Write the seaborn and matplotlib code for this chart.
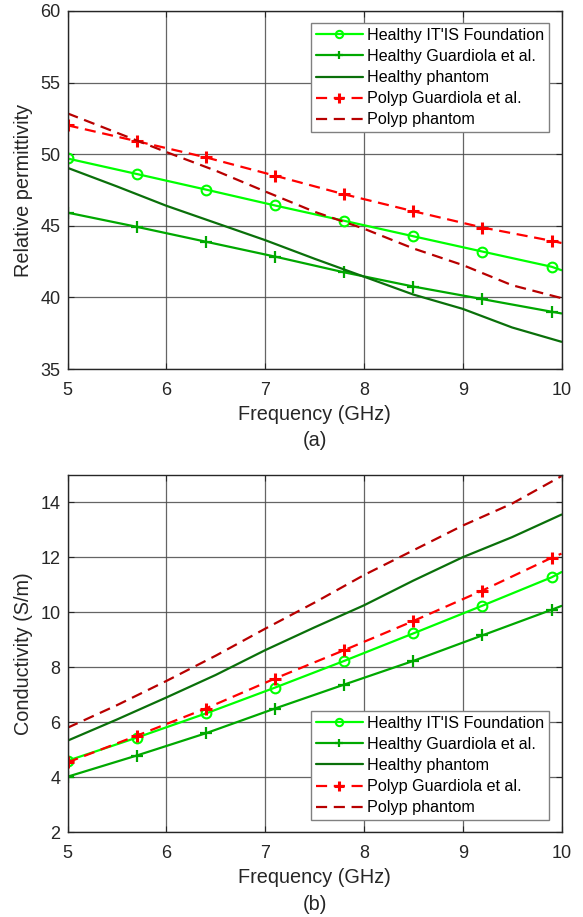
import numpy as np
import pandas as pd
import matplotlib
matplotlib.use("Agg")
import matplotlib.pyplot as plt
import seaborn as sns

# ---------------- data ----------------
# marker series (sampled points, last point = 10 GHz end of line)
freq_mk = [5.0, 5.7, 6.4, 7.1, 7.8, 8.5, 9.2, 9.9, 10.0]
# phantom curves
freq_ph = [5.0, 5.5, 6.0, 6.5, 7.0, 7.5, 8.0, 8.5, 9.0, 9.5, 10.0]

# (a) relative permittivity
eps_healthy_itis = [49.70, 48.62, 47.53, 46.42, 45.35, 44.27, 43.20, 42.14, 41.90]
eps_healthy_guard = [45.92, 44.93, 43.89, 42.85, 41.75, 40.76, 39.88, 39.00, 38.88]
eps_healthy_phant = [49.05, 47.75, 46.40, 45.20, 44.00, 42.70, 41.45, 40.20, 39.20, 37.90, 36.90]
eps_polyp_guard = [52.02, 50.91, 49.78, 48.50, 47.20, 46.02, 44.88, 43.95, 43.80]
eps_polyp_phant = [52.85, 51.50, 50.15, 48.85, 47.40, 45.98, 44.80, 43.42, 42.26, 40.85, 39.95]

# (b) conductivity
sig_healthy_itis = [4.60, 5.44, 6.32, 7.26, 8.23, 9.23, 10.24, 11.27, 11.46]
sig_healthy_guard = [4.02, 4.79, 5.60, 6.50, 7.37, 8.23, 9.16, 10.09, 10.23]
sig_healthy_phant = [5.33, 6.10, 6.90, 7.72, 8.62, 9.45, 10.25, 11.15, 12.00, 12.73, 13.55]
sig_polyp_guard = [4.54, 5.51, 6.50, 7.59, 8.62, 9.68, 10.79, 11.98, 12.13]
sig_polyp_phant = [5.80, 6.62, 7.50, 8.42, 9.40, 10.35, 11.35, 12.25, 13.15, 13.95, 14.95]

labels = ["Healthy IT'IS Foundation", "Healthy Guardiola et al.", "Healthy phantom",
          "Polyp Guardiola et al.", "Polyp phantom"]
x_ticks = [5, 6, 7, 8, 9, 10]
eps_ticks = [35, 40, 45, 50, 55, 60]
sig_ticks = [2, 4, 6, 8, 10, 12, 14]

# ---------------- style ----------------
sns.set_theme(style="white")
plt.rcParams["font.family"] = ["Liberation Sans", "DejaVu Sans"]
plt.rcParams["axes.edgecolor"] = "#262626"
plt.rcParams["axes.linewidth"] = 1.0

c_itis = "#00FF00"
c_guard = "#00A800"
c_hph = "#0A700A"
c_pguard = "#FF0000"
c_pph = "#B80000"
lw = 1.6
dash = (0, (5, 3))

fig = plt.figure(figsize=(5.83, 9.17), dpi=100)
ax1 = fig.add_axes([67.5 / 583, 1 - 369 / 917, (561.5 - 67.5) / 583, (369 - 11) / 917])
ax2 = fig.add_axes([67.5 / 583, 1 - 832.3 / 917, (561.5 - 67.5) / 583, (832.3 - 474.7) / 917])


def draw(ax, itis, guard, hph, pguard, pph):
    nmk = len(freq_mk) - 1
    every = list(range(nmk))
    sns.lineplot(x=freq_mk, y=itis, ax=ax, color=c_itis, lw=lw, marker="o", ms=7,
                 mfc="none", mec=c_itis, mew=1.5, markevery=every, label=labels[0])
    sns.lineplot(x=freq_mk, y=guard, ax=ax, color=c_guard, lw=lw, marker="+", ms=8,
                 mec=c_guard, mew=1.6, markevery=every, label=labels[1])
    sns.lineplot(x=freq_ph, y=hph, ax=ax, color=c_hph, lw=lw, label=labels[2])
    sns.lineplot(x=freq_mk, y=pguard, ax=ax, color=c_pguard, lw=lw, ls=dash, marker="+", ms=9,
                 mec=c_pguard, mew=2.2, markevery=every, label=labels[3])
    sns.lineplot(x=freq_ph, y=pph, ax=ax, color=c_pph, lw=lw, ls=dash, label=labels[4])


draw(ax1, eps_healthy_itis, eps_healthy_guard, eps_healthy_phant, eps_polyp_guard, eps_polyp_phant)
draw(ax2, sig_healthy_itis, sig_healthy_guard, sig_healthy_phant, sig_polyp_guard, sig_polyp_phant)

for ax, yt, ylim, ylab, sub, loc in [
    (ax1, eps_ticks, (35, 60), "Relative permittivity", "(a)", "upper right"),
    (ax2, sig_ticks, (2, 15), "Conductivity (S/m)", "(b)", "lower right"),
]:
    ax.set_xlim(5, 10)
    ax.set_ylim(*ylim)
    ax.set_xticks(x_ticks)
    ax.set_yticks(yt)
    ax.grid(True, color="#4a4a4a", lw=0.9, alpha=0.85)
    ax.set_axisbelow(True)
    ax.tick_params(direction="in", length=4, width=0.8, labelsize=13, colors="#262626",
                   top=True, right=True, bottom=True, left=True, pad=5)
    ax.tick_params(axis="x", pad=9.5)
    for s in ax.spines.values():
        s.set_visible(True)
        s.set_color("#262626")
    ax.set_xlabel("Frequency (GHz)\n" + sub, fontsize=14.3, color="#262626",
                  linespacing=1.5, labelpad=4)
    ax.set_ylabel(ylab, fontsize=14.3, color="#262626", labelpad=5)
    leg = ax.legend(loc=loc, fontsize=11.6, frameon=True, fancybox=False, framealpha=1,
                    edgecolor="#808080", handlelength=2.9, handletextpad=0.3,
                    labelspacing=0.38, borderpad=0.3, borderaxespad=0.75, numpoints=1,
                    markerscale=0.75)
    leg.get_frame().set_linewidth(1.0)
    for t in leg.get_texts():
        t.set_color("#000000")

fig.savefig("out.png", dpi=100)
